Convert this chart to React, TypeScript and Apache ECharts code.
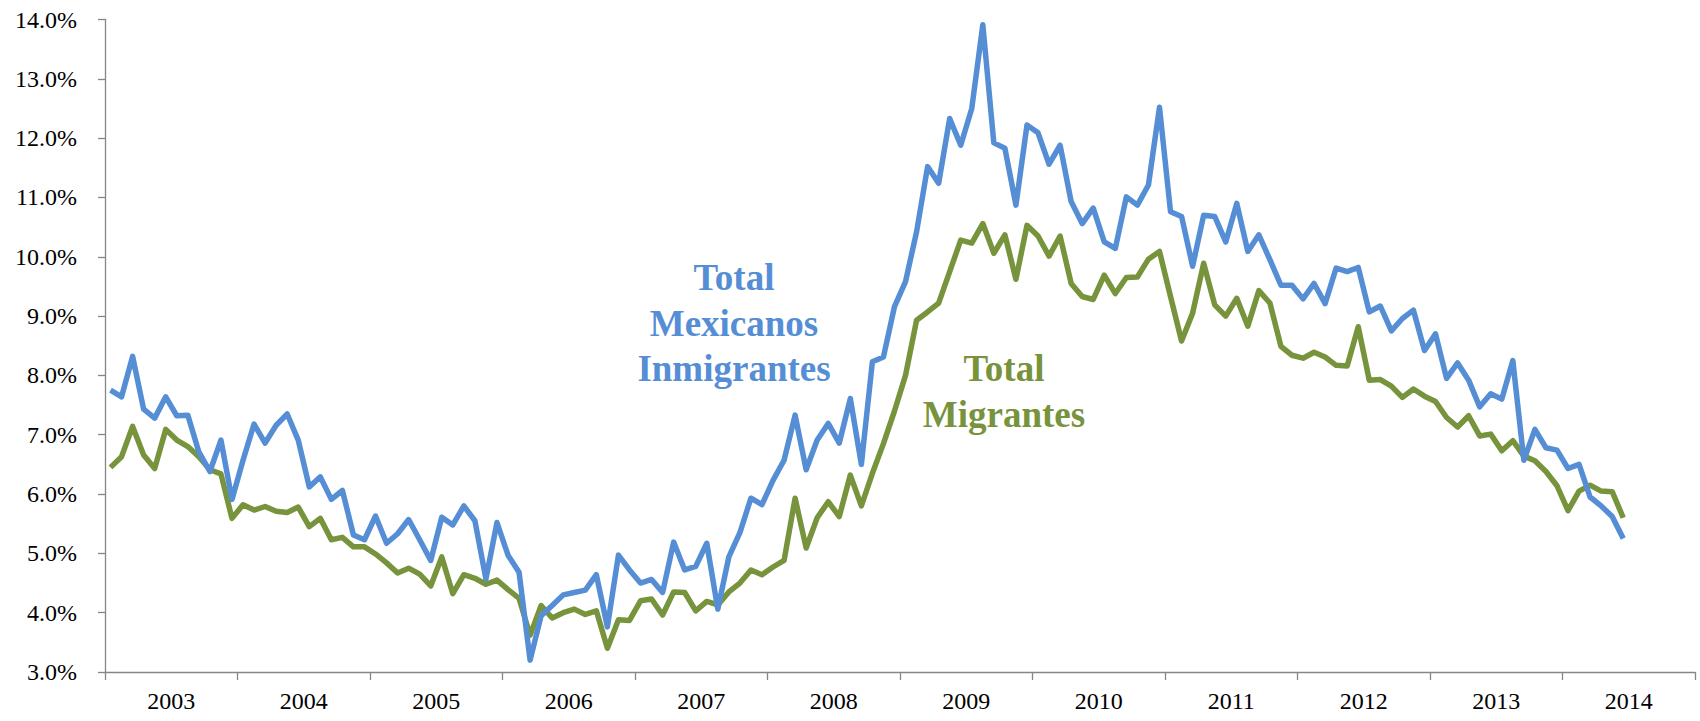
import React, { useEffect, useRef } from "react";
import * as echarts from "echarts";

const years = ["2003", "2004", "2005", "2006", "2007", "2008", "2009", "2010", "2011", "2012", "2013", "2014"];

// Monthly values, Jan 2003 – Jun 2014 (%)
const mexicanosInmigrantes = [
  7.75, 7.64, 8.32, 7.43, 7.28, 7.64, 7.32, 7.33, 6.71, 6.38, 6.91, 5.91,
  6.57, 7.18, 6.86, 7.16, 7.35, 6.91, 6.12, 6.29, 5.91, 6.06, 5.31, 5.23,
  5.63, 5.17, 5.33, 5.57, 5.23, 4.88, 5.61, 5.48, 5.80, 5.55, 4.57, 5.52,
  4.97, 4.68, 3.20, 3.95, 4.12, 4.30, 4.34, 4.38, 4.64, 3.76, 4.97, 4.72,
  4.50, 4.56, 4.34, 5.19, 4.72, 4.78, 5.17, 4.06, 4.94, 5.35, 5.93, 5.82,
  6.23, 6.57, 7.33, 6.41, 6.91, 7.19, 6.86, 7.61, 6.50, 8.23, 8.31, 9.16,
  9.58, 10.42, 11.52, 11.24, 12.33, 11.88, 12.50, 13.91, 11.92, 11.83, 10.87, 12.22,
  12.09, 11.56, 11.88, 10.93, 10.56, 10.82, 10.25, 10.14, 11.01, 10.87, 11.21, 12.52,
  10.76, 10.68, 9.84, 10.70, 10.68, 10.25, 10.90, 10.09, 10.37, 9.95, 9.52, 9.52,
  9.29, 9.55, 9.21, 9.81, 9.75, 9.82, 9.07, 9.17, 8.75, 8.96, 9.10, 8.42,
  8.70, 7.95, 8.21, 7.92, 7.47, 7.69, 7.60, 8.25, 6.57, 7.09, 6.78, 6.74,
  6.43, 6.50, 5.95, 5.80, 5.62, 5.25,
];

const totalMigrantes = [
  6.45, 6.63, 7.14, 6.66, 6.43, 7.09, 6.91, 6.80, 6.63, 6.41, 6.34, 5.59,
  5.82, 5.73, 5.79, 5.71, 5.69, 5.78, 5.45, 5.59, 5.23, 5.27, 5.11, 5.11,
  4.99, 4.84, 4.67, 4.75, 4.65, 4.45, 4.94, 4.32, 4.64, 4.58, 4.48, 4.55,
  4.39, 4.24, 3.62, 4.12, 3.91, 4.00, 4.06, 3.97, 4.03, 3.40, 3.88, 3.87,
  4.20, 4.23, 3.96, 4.35, 4.34, 4.03, 4.19, 4.13, 4.35, 4.50, 4.72, 4.64,
  4.77, 4.88, 5.93, 5.09, 5.60, 5.87, 5.62, 6.32, 5.80, 6.35, 6.85, 7.40,
  8.00, 8.93, 9.07, 9.22, 9.75, 10.28, 10.23, 10.56, 10.06, 10.37, 9.62, 10.53,
  10.35, 10.01, 10.35, 9.55, 9.33, 9.28, 9.69, 9.38, 9.65, 9.66, 9.96, 10.09,
  9.33, 8.58, 9.05, 9.89, 9.19, 9.00, 9.30, 8.83, 9.43, 9.22, 8.49, 8.34,
  8.29, 8.39, 8.31, 8.17, 8.16, 8.82, 7.92, 7.93, 7.82, 7.63, 7.77, 7.65,
  7.56, 7.29, 7.13, 7.32, 6.98, 7.01, 6.73, 6.90, 6.64, 6.56, 6.38, 6.14,
  5.72, 6.05, 6.15, 6.05, 6.04, 5.60,
];

const BLUE = "#558ED5";
const GREEN = "#77933C";
const AXIS = "#868686";
const FONT = "'Liberation Serif', 'Times New Roman', serif";

const toPoints = (arr: number[]) => arr.map((v, i) => [i + 0.5, v]);

export default function App() {
  const ref = useRef<HTMLDivElement>(null);

  useEffect(() => {
    document.body.style.margin = "0";
    if (!ref.current) return;
    const chart = echarts.init(ref.current, null, { renderer: "svg" });
    const monthsTotal = years.length * 12;
    chart.setOption({
      animation: false,
      backgroundColor: "#ffffff",
      grid: { left: 105, right: 5, top: 19.5, bottom: 49 },
      xAxis: [
        {
          type: "category",
          data: years,
          boundaryGap: true,
          axisLine: { show: true, lineStyle: { color: AXIS, width: 1.3 } },
          axisTick: { show: true, length: 8, interval: 0, lineStyle: { color: AXIS, width: 1.3 } },
          axisLabel: { color: "#000", fontFamily: FONT, fontSize: 24, margin: 17, interval: 0 },
          splitLine: { show: false },
        },
        {
          type: "value",
          min: 0,
          max: monthsTotal,
          show: false,
          splitLine: { show: false },
        },
      ],
      yAxis: {
        type: "value",
        min: 3,
        max: 14,
        interval: 1,
        axisLine: { show: true, lineStyle: { color: AXIS, width: 1.3 } },
        axisTick: { show: true, length: 7, lineStyle: { color: AXIS, width: 1.3 } },
        axisLabel: {
          color: "#000",
          fontFamily: FONT,
          fontSize: 24,
          margin: 28,
          formatter: (v: number) => v.toFixed(1) + "%",
        },
        splitLine: { show: false },
      },
      series: [
        {
          name: "Total Migrantes",
          type: "line",
          xAxisIndex: 1,
          data: toPoints(totalMigrantes),
          symbol: "none",
          lineStyle: { color: GREEN, width: 5.5, join: "round" },
          itemStyle: { color: GREEN },
        },
        {
          name: "Total Mexicanos Inmigrantes",
          type: "line",
          xAxisIndex: 1,
          data: toPoints(mexicanosInmigrantes),
          symbol: "none",
          lineStyle: { color: BLUE, width: 5.5, join: "round" },
          itemStyle: { color: BLUE },
        },
      ],
      graphic: [
        { type: "text", x: 734, y: 277, style: { text: "Total", fill: BLUE, font: `bold 37px ${FONT}`, textAlign: "center", textVerticalAlign: "middle" } },
        { type: "text", x: 734, y: 323, style: { text: "Mexicanos", fill: BLUE, font: `bold 37px ${FONT}`, textAlign: "center", textVerticalAlign: "middle" } },
        { type: "text", x: 734, y: 368, style: { text: "Inmigrantes", fill: BLUE, font: `bold 37px ${FONT}`, textAlign: "center", textVerticalAlign: "middle" } },
        { type: "text", x: 1004, y: 368, style: { text: "Total", fill: GREEN, font: `bold 37px ${FONT}`, textAlign: "center", textVerticalAlign: "middle" } },
        { type: "text", x: 1004, y: 414, style: { text: "Migrantes", fill: GREEN, font: `bold 37px ${FONT}`, textAlign: "center", textVerticalAlign: "middle" } },
      ],
    });
    return () => chart.dispose();
  }, []);

  return <div ref={ref} style={{ width: 1700, height: 721 }} />;
}
